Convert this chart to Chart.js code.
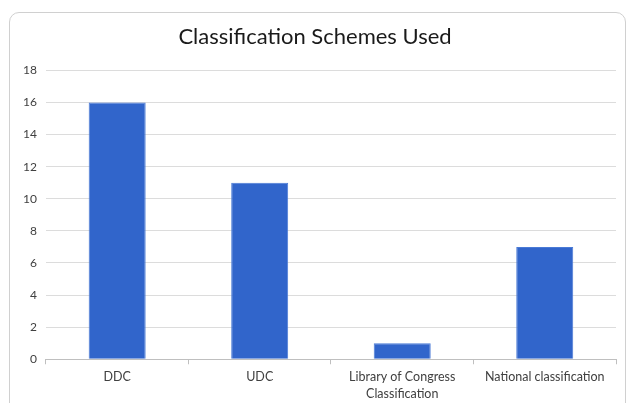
<!DOCTYPE html>
<html>
<head>
<meta charset="utf-8">
<script src="https://cdn.jsdelivr.net/npm/chart.js@4"></script>
<style>
  body { margin: 0; background: #fff; }
  #wrap { position: relative; width: 630px; height: 403px; }
  #frame { position: absolute; left: 9px; top: 12px; width: 615px; height: 400px;
           border: 1px solid #d0d0d0; border-radius: 10px; }
  canvas { position: absolute; left: 0; top: 0; }
</style>
</head>
<body>
<div id="wrap">
  <div id="frame"></div>
  <canvas id="myBarChart" width="630" height="403"></canvas>
</div>
<script>
// chart data
var categories = ["DDC", "UDC", ["Library of Congress", "Classification"], "National classification"];
var schemeCounts = [16, 11, 1, 7];
var yTicks = [0, 2, 4, 6, 8, 10, 12, 14, 16, 18];

var fontFamily = "Lato, 'Open Sans', sans-serif";

function displayBarChart() {
    var canvasID = document.getElementById("myBarChart");

    var barData = {
        labels: categories,
        datasets: [{
            backgroundColor: "#3165cb",
            borderColor: "#4a7ad6",
            borderWidth: 1,
            categoryPercentage: 1.0,
            barPercentage: 0.4,
            data: schemeCounts
        }]
    };

    var barOptions = {
        responsive: false,
        animation: false,
        layout: {
            padding: { left: 14, right: 14, top: 14, bottom: -3 }
        },
        plugins: {
            legend: { display: false },
            tooltip: { enabled: false },
            title: {
                display: true,
                text: "Classification Schemes Used",
                color: "#1a1a1a",
                font: { family: fontFamily, size: 22, weight: "normal" },
                padding: { top: 10, bottom: 20 }
            }
        },
        scales: {
            x: {
                grid: {
                    offset: true,
                    drawOnChartArea: false,
                    drawTicks: true,
                    tickLength: 5,
                    color: "#bfbfbf"
                },
                border: { color: "#bfbfbf" },
                ticks: {
                    color: "#404040",
                    font: { family: fontFamily, size: 12.5, lineHeight: 1.35 },
                    maxRotation: 0,
                    padding: 4
                }
            },
            y: {
                min: 0,
                max: 18,
                afterBuildTicks: function (axis) {
                    axis.ticks = yTicks.map(function (v) { return { value: v }; });
                },
                grid: { color: "#dcdcdc", drawTicks: false },
                border: { display: false },
                ticks: {
                    color: "#404040",
                    font: { family: fontFamily, size: 12 },
                    padding: 9
                }
            }
        }
    };

    myBarChart = new Chart(canvasID, {
        type: "bar",
        data: barData,
        options: barOptions
    });
    return myBarChart;
}

var myBarChart = displayBarChart();
</script>
</body>
</html>
